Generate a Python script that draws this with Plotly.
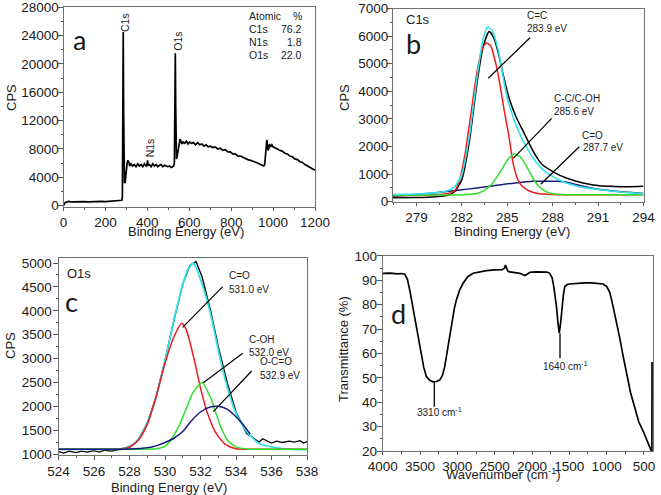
import plotly.graph_objects as go

W, H = 661, 495
FONT = "Liberation Sans, Arial, sans-serif"

# ---------------- Panel a: XPS survey ----------------
a_be = [0, 4, 8, 15, 25, 40, 60, 80, 100, 120,
        140, 160, 180, 200, 220, 240, 255, 265, 272, 278,
        281, 283, 285, 287, 289, 291, 294, 298, 301, 304,
        307, 311, 316, 322, 330, 338, 346, 354, 362, 370,
        378, 386, 394, 399, 401, 404, 410, 418, 426, 434,
        442, 450, 458, 466, 474, 482, 490, 498, 506, 514,
        520, 526, 529, 531, 533.5, 535.5, 537, 539, 542, 546,
        549, 553, 556, 560, 565, 570, 578, 586, 594, 602,
        610, 620, 630, 640, 650, 660, 670, 680, 690, 700,
        712, 724, 736, 748, 760, 772, 784, 796, 808, 820,
        832, 844, 856, 868, 880, 892, 904, 916, 928, 940,
        950, 956, 960, 964, 967, 970, 973, 976, 979, 983,
        988, 994, 1000, 1010, 1020, 1032, 1044, 1056, 1068, 1080,
        1092, 1104, 1116, 1128, 1140, 1152, 1164, 1176, 1188, 1200]
a_cps = [0, 250, 450, 500, 600, 520, 560, 540, 580, 530,
         570, 550, 590, 560, 600, 620, 650, 700, 720, 760,
         1200, 9000, 24500, 13000, 5500, 3200, 3300, 4800, 5600, 6100,
         6400, 6200, 5600, 5900, 5600, 5800, 5500, 5900, 5600, 5800,
         5500, 5900, 5600, 5900, 6400, 5700, 5800, 5500, 5900, 5600,
         5800, 5500, 5700, 5800, 5500, 5700, 5600, 5500, 5600, 5400,
         5500, 5600, 6000, 11000, 21500, 14000, 8000, 6600, 6900, 7700,
         8300, 9000, 9400, 9100, 8700, 9000, 8800, 9100, 8700, 9000,
         8800, 8900, 8600, 8900, 8600, 8700, 8400, 8600, 8300, 8400,
         8200, 8300, 8000, 8100, 7800, 7900, 7600, 7600, 7300, 7300,
         7000, 7000, 6800, 6700, 6500, 6400, 6300, 6100, 6000, 5800,
         5700, 5600, 5800, 6800, 8200, 9300, 8800, 7800, 8000, 8700,
         8300, 8600, 8300, 8200, 8000, 7800, 7700, 7400, 7300, 7000,
         6900, 6600, 6500, 6200, 6100, 5800, 5600, 5400, 5200, 5000]

atomic_elements = ["C1s", "N1s", "O1s"]
atomic_percent = ["76.2", "1.8", "22.0"]

# ---------------- Panel b: C1s ----------------
b_black_x = [277.45, 279, 280, 281, 281.5, 282, 282.5, 283, 283.4, 283.8,
             284.1, 284.4, 284.7, 285.15, 285.6, 286.1, 286.5, 286.9, 287.3, 287.8,
             288.3, 288.9, 289.5, 290, 291.1, 292, 293, 294]
b_black_y = [140, 150, 170, 220, 350, 800, 2200, 4300, 5600, 6170,
             5950, 5400, 4670, 3700, 3050, 2500, 2050, 1650, 1350, 1160,
             1000, 860, 750, 680, 580, 555, 545, 560]
b_fit_x = [277.45, 279, 280, 281, 281.5, 282, 282.5, 283, 283.4, 283.7,
           284, 284.4, 284.7, 285, 285.5, 285.9, 286.3, 286.7, 287.1, 287.6,
           288.2, 288.9, 289.5, 290, 291.1, 292, 293, 294]
b_fit_y = [260, 280, 310, 390, 530, 1000, 2400, 4500, 5900, 6330,
           6200, 5500, 4600, 3750, 2900, 2370, 1950, 1590, 1300, 1050,
           850, 680, 580, 520, 435, 380, 330, 290]
b_cc_x = [277.45, 279, 280, 281, 281.5, 281.85, 282.2, 282.5, 283, 283.3,
          283.6, 283.9, 284.2, 284.5, 284.8, 285.1, 285.4, 285.7, 286, 286.5,
          287, 288, 290, 294]
b_cc_y = [220, 230, 250, 290, 380, 800, 1700, 2800, 4700, 5450,
          5750, 5650, 5100, 4300, 3300, 2400, 1350, 800, 550, 380,
          300, 260, 250, 250]
b_coh_x = [277.45, 280, 282, 283, 283.5, 284, 284.5, 285, 285.45, 285.9,
           286.3, 286.7, 287.1, 287.5, 288, 289, 290, 294]
b_coh_y = [230, 240, 250, 300, 420, 650, 1050, 1500, 1740, 1600,
           1250, 850, 550, 380, 290, 255, 250, 250]
b_co_x = [277.45, 279, 280, 281, 282, 283, 284, 284.6, 285.8, 286.75,
          287.5, 288.3, 289, 290, 291, 292, 293, 294]
b_co_y = [195, 260, 310, 370, 430, 500, 570, 617, 700, 737,
          745, 737, 700, 560, 450, 390, 340, 300]

# ---------------- Panel c: O1s ----------------
c_black_x = [524, 524.3, 524.6, 525, 525.3, 525.6, 526, 526.3, 526.6, 527,
             527.3, 527.6, 528, 528.5, 529, 529.5, 530, 530.5, 531, 531.4,
             531.75, 532.1, 532.6, 533, 533.5, 534, 534.6, 535, 535.3, 535.5,
             535.8, 536, 536.3, 536.6, 537, 537.3, 537.6, 537.8, 538]
c_black_y = [1050, 1020, 1060, 1030, 1060, 1040, 1070, 1040, 1080, 1060,
             1090, 1100, 1140, 1300, 1640, 2200, 2950, 3800, 4560, 4950,
             5030, 4700, 3950, 3250, 2500, 1880, 1430, 1330, 1250, 1320,
             1260, 1230, 1270, 1240, 1270, 1250, 1280, 1230, 1260]
c_fit_x = [524, 527, 527.5, 528, 528.5, 529, 529.5, 530, 530.5, 531,
           531.3, 531.6, 532.2, 532.6, 533, 533.45, 534, 534.6, 535.3, 536.5,
           538]
c_fit_y = [1100, 1100, 1110, 1160, 1310, 1650, 2200, 2950, 3800, 4550,
           4870, 5000, 4430, 3880, 3180, 2480, 1850, 1470, 1220, 1120,
           1090]
c_co_x = [524, 527, 527.5, 528, 528.5, 529, 529.5, 530, 530.5, 530.95,
          531.2, 531.65, 532, 532.4, 532.9, 533.4, 534, 535, 538]
c_co_y = [1100, 1100, 1110, 1150, 1290, 1620, 2200, 2900, 3450, 3737,
          3600, 2970, 2380, 1850, 1420, 1200, 1110, 1100, 1100]
c_coh_x = [524, 529, 529.5, 530, 530.4, 530.8, 531.2, 531.6, 532.1, 532.6,
           533.07, 533.5, 534, 534.5, 535, 538]
c_coh_y = [1100, 1100, 1110, 1160, 1330, 1600, 1950, 2300, 2500, 2150,
           1640, 1300, 1150, 1110, 1100, 1100]
c_oco_x = [524, 527, 528, 529, 529.5, 530, 530.5, 531, 531.5, 532,
           532.5, 533, 533.5, 534, 534.4, 534.8]
c_oco_y = [1100, 1100, 1105, 1130, 1170, 1240, 1330, 1470, 1700, 1880,
           1980, 2000, 1940, 1780, 1620, 1420]

# ---------------- Panel d: FTIR ----------------
d_wn = [4000, 3900, 3800, 3750, 3705, 3670, 3638, 3600, 3557, 3520,
        3481, 3450, 3414, 3370, 3325, 3280, 3236, 3200, 3169, 3130,
        3080, 3040, 3013, 2970, 2923, 2860, 2789, 2700, 2610, 2500,
        2400, 2370, 2355, 2340, 2320, 2250, 2163, 2120, 2096, 2060,
        2029, 1950, 1851, 1800, 1762, 1730, 1708, 1690, 1672, 1650,
        1635, 1615, 1597, 1580, 1561, 1530, 1494, 1400, 1300, 1200,
        1136, 1050, 1000, 957, 912, 868, 822, 780, 732, 680,
        621, 570, 509, 466, 442, 421, 405, 394, 392]
d_tr = [92.9, 93.0, 92.7, 92.8, 92.5, 90.5, 86.1, 79.5, 72.4, 65.5,
        58.7, 54.3, 50.5, 49.0, 48.4, 48.5, 49.1, 51.0, 54.6, 62.0,
        72.4, 78.5, 82.0, 86.0, 88.8, 91.5, 92.9, 93.6, 94.0, 94.3,
        94.4, 95.0, 96.3, 95.0, 93.6, 93.3, 92.9, 92.3, 92.0, 92.6,
        93.3, 93.5, 93.6, 93.4, 92.9, 91.0, 87.4, 83.5, 79.2, 72.0,
        68.3, 73.0, 79.0, 84.0, 87.4, 88.3, 88.5, 88.8, 89.0, 89.0,
        88.9, 88.5, 87.5, 85.0, 79.0, 73.0, 66.0, 59.0, 51.0, 44.0,
        37.5, 32.0, 28.0, 24.5, 23.0, 21.5, 20.3, 20.1, 56.5]

RED, GREEN, NAVY, CYAN = "#ee1c1c", "#2ee02e", "#1b1b7d", "#2fe3ea"

fig = go.Figure()


def add(x, y, color, xa, ya, width=1.5, shape="spline"):
    line = dict(color=color, width=width, shape=shape)
    if shape == "spline":
        line["smoothing"] = 0.6
    fig.add_trace(go.Scatter(x=x, y=y, mode="lines", xaxis=xa, yaxis=ya,
                             line=line, hoverinfo="skip"))


add(a_be, a_cps, "black", "x", "y", 1.7, "linear")

add(b_black_x, b_black_y, "black", "x2", "y2", 1.5)
add(b_co_x, b_co_y, NAVY, "x2", "y2", 1.5)
add(b_cc_x, b_cc_y, RED, "x2", "y2", 1.5)
add(b_coh_x, b_coh_y, GREEN, "x2", "y2", 1.5)
add(b_fit_x, b_fit_y, CYAN, "x2", "y2", 1.6)

add(c_black_x, c_black_y, "black", "x3", "y3", 1.4, "linear")
add(c_fit_x, c_fit_y, CYAN, "x3", "y3", 1.8)
add(c_co_x, c_co_y, RED, "x3", "y3", 1.5)
add(c_coh_x, c_coh_y, GREEN, "x3", "y3", 1.5)
add(c_oco_x, c_oco_y, NAVY, "x3", "y3", 1.5)

add(d_wn, d_tr, "black", "x4", "y4", 1.7, "linear")


def px(v):
    return v / W


def py(v):
    return 1 - v / H


tickfont = dict(family=FONT, size=13.5, color="#1a1a1a")


def axis(domain, rng, dtick, minor_dtick, tick0, anchor, standoff, ticklen):
    return dict(domain=domain, range=rng, dtick=dtick, tick0=tick0, tickformat="d",
                showline=True, linecolor="#707070", linewidth=1, mirror=True,
                ticks="outside", ticklen=ticklen, tickwidth=1, tickcolor="#555555",
                showgrid=False, zeroline=False, tickfont=tickfont,
                ticklabelstandoff=standoff,
                minor=dict(ticks="outside", ticklen=2, tickcolor="#555555",
                           dtick=minor_dtick, tick0=tick0, showgrid=False),
                anchor=anchor, fixedrange=True, automargin=False)


layout = dict(
    width=W, height=H, margin=dict(l=0, r=0, t=0, b=0, pad=0, autoexpand=False),
    paper_bgcolor="white", plot_bgcolor="white", showlegend=False,
    xaxis=axis([px(63.5), px(315)], [0, 1200], 200, 100, 0, "y", 0, 3),
    yaxis=axis([py(206.5), py(7.3)], [-120, 28000], 4000, 2000, 0, "x", -4, 5),
    xaxis2=axis([px(393), px(643.5)], [277.45, 294], 3, 1.5, 279, "y2", 0, 3),
    yaxis2=axis([py(201.7), py(8.5)], [0, 7000], 1000, 500, 0, "x2", -4, 5),
    xaxis3=axis([px(58.5), px(307)], [524, 538], 2, 1, 524, "y3", 0, 4),
    yaxis3=axis([py(454.5), py(258)], [990, 5105], 500, 250, 1000, "x3", -2, 5),
    xaxis4=axis([px(382.7), px(653)], [4000, 379], 500, 250, 500, "y4", 0, 3),
    yaxis4=axis([py(451), py(255.5)], [20, 100.2], 10, 5, 0, "x4", -3, 5),
)

ann = []


def text(t, x, y, size=10, xanchor="left", yanchor="middle", angle=0, family=FONT, color="#1a1a1a"):
    ann.append(dict(text=t, x=px(x), y=py(y), xref="paper", yref="paper",
                    xanchor=xanchor, yanchor=yanchor, showarrow=False, textangle=angle,
                    font=dict(family=family, size=size, color=color)))


# axis titles
text("CPS", 12, 98, 13, "center", "middle", -90)
text("Binding Energy (eV)", 186, 231, 13, "center")
text("CPS", 345, 98, 13, "center", "middle", -90)
text("Binding Energy (eV)", 512, 231.5, 13, "center")
text("CPS", 10, 346, 13, "center", "middle", -90)
text("Binding Energy (eV)", 169, 487, 13, "center")
text("Transmittance (%)", 343, 349, 13, "center", "middle", -90)
text("Wavenumber (cm<sup>-1</sup>)", 503, 473.5, 13, "center")

# panel letters
LET = "Lato, Open Sans, sans-serif"
text("a", 79, 40, 27, "center", family=LET)
text("b", 413.5, 43, 27, "center", family=LET)
text("c", 71, 301, 27, "center", family=LET)
text("d", 398.5, 313, 27, "center", family=LET)

# panel a labels
text("Atomic", 247, 16, 10.5)
text("%", 297, 16, 10.5, xanchor="center")
for i, (el, pc) in enumerate(zip(atomic_elements, atomic_percent)):
    yy = 29.3 + i * 12.6
    text(el, 247, yy, 10.5)
    text(pc, 303.5, yy, 10.5, xanchor="right")
text("C1s", 125.5, 22.5, 10.5, "center", angle=-90)
text("O1s", 178, 41.7, 10.5, "center", angle=-90)
text("N1s", 150.3, 148, 10.5, "center", angle=-90)

# panel b labels
text("C1s", 404, 19, 13)
text("C=C", 525, 16)
text("283.9 eV", 525, 28.5)
text("C-C/C-OH", 551.7, 99)
text("285.6 eV", 551.7, 111)
text("C=O", 580, 135.5)
text("287.7 eV", 581, 147.5)

# panel c labels
text("O1s", 65, 273, 13)
text("C=O", 226.7, 275.5)
text("531.0 eV", 226.7, 289)
text("C-OH", 247.3, 339.5)
text("532.0 eV", 247.3, 352)
text("O-C=O", 258.3, 361)
text("532.9 eV", 258.3, 375)

# panel d labels
text("3310 cm<sup>-1</sup>", 439.7, 412, 10, "center")
text("1640 cm<sup>-1</sup>", 565.8, 366, 10, "center")

layout["annotations"] = ann


def seg(x0, y0, x1, y1, w=1.2):
    return dict(type="line", xref="paper", yref="paper", x0=px(x0), y0=py(y0),
                x1=px(x1), y1=py(y1), line=dict(color="black", width=w))


layout["shapes"] = [
    seg(530, 37.7, 488.3, 78.3),
    seg(551.7, 118.3, 513.3, 158.3),
    seg(579.3, 146.7, 540.7, 184.3),
    seg(222.7, 286.7, 182.7, 327.3),
    seg(242.7, 353.3, 203.3, 382.7),
    seg(251.7, 371, 213.3, 411.7),
    seg(434.3, 381.7, 434.3, 406.7, 1.3),
    seg(560, 333.3, 560, 358.3, 1.3),
]

fig.update_layout(**layout)
fig.write_html("out.html", config={"displayModeBar": False},
               post_script="document.body.style.margin='0';document.body.style.overflow='hidden';")
